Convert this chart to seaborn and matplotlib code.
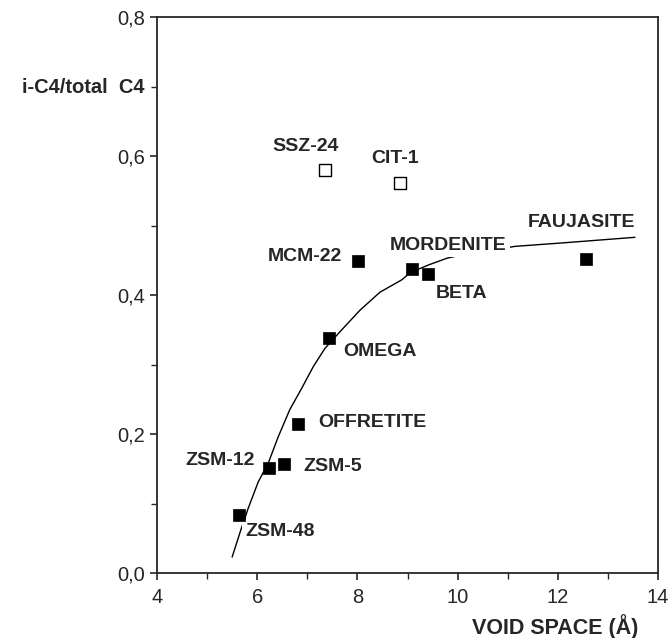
import numpy as np
import pandas as pd
import matplotlib
matplotlib.use('Agg')
import matplotlib.pyplot as plt
import seaborn as sns

# zeolites, void space (A) vs i-C4/total C4
zeolites = ['SSZ-24', 'CIT-1', 'MCM-22', 'MORDENITE', 'BETA', 'FAUJASITE',
            'OMEGA', 'OFFRETITE', 'ZSM-12', 'ZSM-5', 'ZSM-48']
void_space = [7.35, 8.85, 8.01, 9.08, 9.40, 12.56, 7.43, 6.81, 6.24, 6.53, 5.64]
ic4_ratio = [0.580, 0.561, 0.449, 0.437, 0.430, 0.452, 0.338, 0.214, 0.151, 0.157, 0.083]
open_marker = [True, True, False, False, False, False, False, False, False, False, False]

# hand drawn trend line
trend_x = [5.50, 5.66, 5.82, 6.02, 6.22, 6.42, 6.65, 6.89, 7.12, 7.35, 7.65,
           8.05, 8.45, 8.89, 9.05, 9.41, 9.79, 10.17, 11.15, 12.10, 13.54]
trend_y = [0.023, 0.059, 0.093, 0.131, 0.158, 0.196, 0.235, 0.266, 0.297, 0.323, 0.347,
           0.378, 0.404, 0.422, 0.432, 0.443, 0.453, 0.459, 0.470, 0.475, 0.483]

df = pd.DataFrame({'zeolite': zeolites, 'void': void_space, 'ratio': ic4_ratio, 'open': open_marker})
trend = pd.DataFrame({'void': trend_x, 'ratio': trend_y})

# label offsets in pixels from the marker
label_offsets = {
    'SSZ-24': (-19, 23), 'CIT-1': (-5, 25), 'MCM-22': (-53, 4), 'MORDENITE': (37, 24),
    'FAUJASITE': (-4, 36), 'BETA': (34, -19), 'OMEGA': (51, -13), 'OFFRETITE': (75, 2),
    'ZSM-12': (-49, 8), 'ZSM-5': (49, -3), 'ZSM-48': (41, -16),
}

sns.set_style('ticks')
plt.rcParams['font.family'] = ['Liberation Sans', 'DejaVu Sans']

fig = plt.figure(figsize=(6.71, 6.38), dpi=100)
ax = fig.add_axes([157 / 671, 1 - 573 / 638, 501 / 671, 556 / 638])

sns.lineplot(data=trend, x='void', y='ratio', sort=False, color='black', lw=1.0, ax=ax, zorder=2)

filled = df[~df['open']]
hollow = df[df['open']]
sns.scatterplot(data=filled, x='void', y='ratio', marker='s', s=85, color='black',
                edgecolor='black', linewidth=0.5, ax=ax, zorder=4)
sns.scatterplot(data=hollow, x='void', y='ratio', marker='s', s=75, facecolor='white',
                edgecolor='black', linewidth=1.0, ax=ax, zorder=4)

for _, row in df.iterrows():
    dx, dy = label_offsets[row['zeolite']]
    ax.annotate(row['zeolite'], (row['void'], row['ratio']), xytext=(dx, dy),
                textcoords='offset pixels', ha='center', va='center',
                fontsize=14, fontweight='bold', zorder=3,
                bbox=dict(boxstyle='square,pad=0.15', fc='white', ec='none'))

ax.set_xlim(4, 14)
ax.set_ylim(0, 0.8)
ax.set_xticks([4, 6, 8, 10, 12, 14])
ax.set_xticks(np.arange(4, 14, 1), minor=True)
ax.set_yticks([0, 0.2, 0.4, 0.6, 0.8])
ax.set_yticks([0.1, 0.3, 0.5, 0.7], minor=True)
ax.set_yticklabels(['0,0', '0,2', '0,4', '0,6', '0,8'])
ax.tick_params(axis='both', which='major', labelsize=14.5, length=5, width=1.2, direction='out')
ax.tick_params(axis='x', which='major', pad=6)
ax.tick_params(axis='both', which='minor', length=4, width=1.0, direction='out')
for sp in ax.spines.values():
    sp.set_linewidth(1.3)
    sp.set_visible(True)

ax.set_xlabel('VOID SPACE (Å)', fontsize=15.5, fontweight='bold', labelpad=0)
ax.xaxis.set_label_coords(0.96, -0.097)
ax.xaxis.label.set_ha('right')
ax.xaxis.label.set_va('center')
ax.set_ylabel('i-C4/total  C4', fontsize=14.5, fontweight='bold', rotation=0)
ax.yaxis.set_label_coords(-0.024, 0.874)
ax.yaxis.label.set_ha('right')
ax.yaxis.label.set_va('center')

fig.savefig('out.png', dpi=100)
